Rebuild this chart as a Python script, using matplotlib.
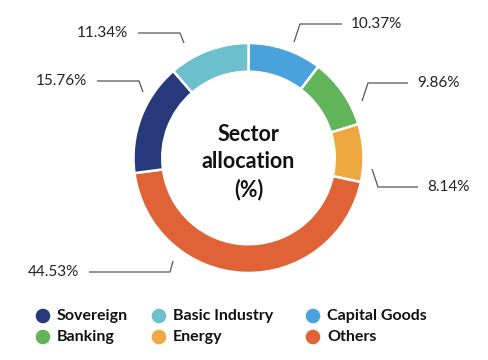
import numpy as np
import matplotlib
matplotlib.use('Agg')
import matplotlib.pyplot as plt

# data, clockwise from 12 o'clock
sectors = ['Capital Goods', 'Banking', 'Energy', 'Others', 'Sovereign', 'Basic Industry']
shares = [10.37, 9.86, 8.14, 44.53, 15.76, 11.34]
colors = ['#4aa2dc', '#62b45a', '#eda842', '#e06337', '#27397a', '#6cbfcc']

legend_order = ['Sovereign', 'Basic Industry', 'Capital Goods', 'Banking', 'Energy', 'Others']

W, H = 489, 360
CX, CY, R = 248.5, 158, 115

# leader lines in pixel coords (start, elbow, end) and label side
leaders = {
  'Capital Goods': ((294, 42), (300, 24), (342, 24), 'left'),
  'Banking': ((362, 101), (368, 83), (408, 83), 'left'),
  'Energy': ((372, 169), (378, 187), (418, 187), 'left'),
  'Others': ((173, 261), (170, 272), (89, 272), 'right'),
  'Sovereign': ((143, 92), (139, 81), (97, 81), 'right'),
  'Basic Industry': ((184, 43), (180, 33), (138, 33), 'right'),
}

plt.rcParams['font.family'] = ['Lato', 'DejaVu Sans']

fig = plt.figure(figsize=(W/100, H/100), dpi=100)
ax = fig.add_axes([0, 0, 1, 1])

def fy(y):
  return H - y

ax.pie(shares, colors=colors, startangle=90, counterclock=False,
       center=(CX, fy(CY)), radius=R,
       wedgeprops=dict(width=R*0.25, edgecolor='white', linewidth=1.8))

for name, val in zip(sectors, shares):
  p0, p1, p2, side = leaders[name]
  ax.plot([p0[0], p1[0], p2[0]], [fy(p0[1]), fy(p1[1]), fy(p2[1])],
          color='#555555', lw=0.9, solid_capstyle='butt')
  if side == 'left':
    ax.text(p2[0] + 9, fy(p2[1]), '%.2f%%' % val, ha='left', va='center',
            fontsize=11, color='#222222')
  else:
    ax.text(p2[0] - 10, fy(p2[1]), '%.2f%%' % val, ha='right', va='center',
            fontsize=11, color='#222222')

ax.text(CX, fy(162), 'Sector\nallocation\n(%)', ha='center', va='center',
        fontsize=15.5, fontweight='bold', color='#111111', linespacing=1.35)

# legend, drawn by hand to keep the uneven columns
col_x = [43, 159, 313]
row_y = [316, 337]
for i, name in enumerate(legend_order):
  x = col_x[i % 3]
  y = row_y[i // 3]
  c = colors[sectors.index(name)]
  ax.scatter([x], [fy(y)], s=110, color=c, edgecolors='none')
  ax.text(x + 14, fy(y), name, ha='left', va='center', fontsize=11.5,
          fontweight='bold', color='#111111')

ax.set_xlim(0, W)
ax.set_ylim(0, H)
ax.set_aspect('equal')
ax.axis('off')

fig.savefig('out.png', dpi=100)
